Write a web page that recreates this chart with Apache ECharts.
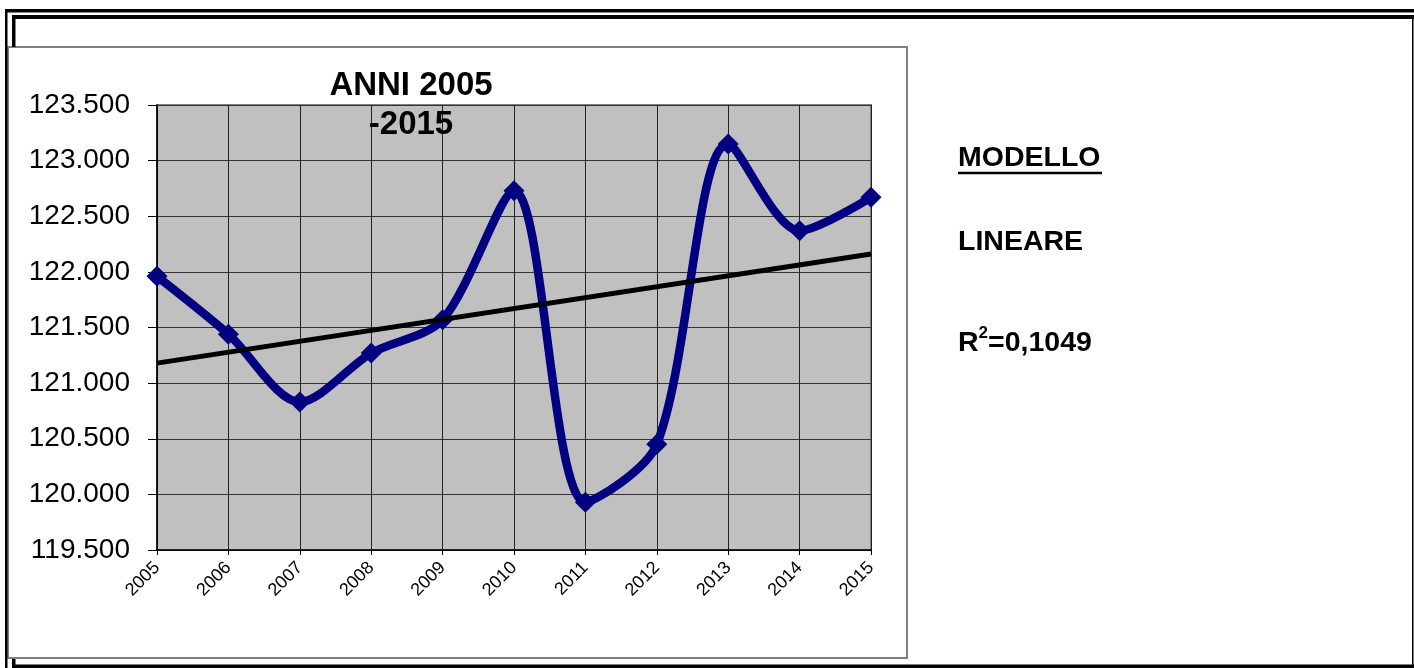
<!DOCTYPE html>
<html>
<head>
<meta charset="utf-8">
<script src="https://cdn.jsdelivr.net/npm/echarts@6/dist/echarts.min.js"></script>
<style>
  html, body { margin: 0; padding: 0; background: #fff; }
  #chart { width: 1414px; height: 668px; }
</style>
</head>
<body>
<div id="chart"></div>
<script>
// dati
const anni = ['2005', '2006', '2007', '2008', '2009', '2010', '2011', '2012', '2013', '2014', '2015'];
const valori = [121960, 121440, 120830, 121270, 121570, 122730, 119930, 120450, 123150, 122370, 122670];
// retta di tendenza (estremi)
const tendenza = [['2005', 121180], ['2015', 122160]];
const yMin = 119500;
const yMax = 123500;
const yStep = 500;

const font = '"Liberation Sans", Arial, sans-serif';

// 123500 -> "123.500"
function formatta(v) {
  return String(Math.round(v)).replace(/\B(?=(\d{3})+(?!\d))/g, '.');
}

const chart = echarts.init(document.getElementById('chart'));

const option = {
  backgroundColor: '#fff',
  animation: false,
  graphic: [
    // cornice esterna
    { type: 'rect', shape: { x: 5, y: 9, width: 1409, height: 3.5 }, style: { fill: '#000' } },
    { type: 'rect', shape: { x: 12, y: 15, width: 1402, height: 4 }, style: { fill: '#000' } },
    { type: 'rect', shape: { x: 5, y: 9, width: 2.5, height: 659 }, style: { fill: '#000' } },
    { type: 'rect', shape: { x: 12, y: 15, width: 3.5, height: 32 }, style: { fill: '#000' } },
    { type: 'rect', shape: { x: 1412, y: 19, width: 1.5, height: 649 }, style: { fill: '#000' } },
    { type: 'rect', shape: { x: 12, y: 664.5, width: 1402, height: 3.5 }, style: { fill: '#000' } },
    { type: 'rect', shape: { x: 12, y: 659, width: 3.5, height: 9 }, style: { fill: '#000' } },
    // area del grafico
    {
      type: 'rect', z: -10,
      shape: { x: 8, y: 47, width: 899, height: 611 },
      style: { fill: '#fff', stroke: '#808080', lineWidth: 2 }
    },
    // titolo
    {
      type: 'text', z: 100, x: 411, y: 86,
      style: { text: 'ANNI 2005', font: 'bold 33px ' + font, fill: '#000', textAlign: 'center', textVerticalAlign: 'middle' }
    },
    {
      type: 'text', z: 100, x: 411, y: 125,
      style: { text: '-2015', font: 'bold 33px ' + font, fill: '#000', textAlign: 'center', textVerticalAlign: 'middle' }
    },
    // testo a destra
    {
      type: 'text', x: 958, y: 158,
      style: { text: 'MODELLO', font: 'bold 28.5px ' + font, fill: '#000', textAlign: 'left', textVerticalAlign: 'middle' }
    },
    {
      type: 'line', shape: { x1: 958, y1: 173, x2: 1102, y2: 173 },
      style: { stroke: '#000', lineWidth: 2.5 }
    },
    {
      type: 'text', x: 958, y: 242,
      style: { text: 'LINEARE', font: 'bold 28.5px ' + font, fill: '#000', textAlign: 'left', textVerticalAlign: 'middle' }
    },
    {
      type: 'text', x: 958, y: 343,
      style: {
        text: '{r|R}{s|2}{r|=0,1049}',
        textAlign: 'left', textVerticalAlign: 'middle',
        rich: {
          r: { fontFamily: font, fontSize: 28.5, fontWeight: 'bold', color: '#000', lineHeight: 36 },
          s: { fontFamily: font, fontSize: 17, fontWeight: 'bold', color: '#000', lineHeight: 12, verticalAlign: 'top' }
        }
      }
    }
  ],
  grid: {
    left: 157,
    right: 543,
    top: 105,
    bottom: 118,
    show: true,
    backgroundColor: '#c0c0c0',
    borderColor: '#808080',
    borderWidth: 2
  },
  xAxis: {
    type: 'category',
    data: anni,
    boundaryGap: false,
    axisLine: { lineStyle: { color: '#000', width: 1.5 } },
    axisTick: { show: true, length: 5, lineStyle: { color: '#000' } },
    axisLabel: {
      rotate: 45,
      margin: 15,
      interval: 0,
      color: '#000',
      fontFamily: font,
      fontSize: 18
    },
    splitLine: { show: true, lineStyle: { color: '#222', width: 1 } }
  },
  yAxis: {
    type: 'value',
    min: yMin,
    max: yMax,
    interval: yStep,
    axisLine: { show: true, lineStyle: { color: '#000', width: 1.5 } },
    axisTick: { show: true, length: 9, lineStyle: { color: '#000' } },
    axisLabel: {
      margin: 27,
      color: '#000',
      fontFamily: font,
      fontSize: 28,
      formatter: formatta
    },
    splitLine: { show: true, lineStyle: { color: '#333', width: 1 } }
  },
  series: [
    {
      name: 'Valori',
      type: 'line',
      data: valori,
      smooth: 0.3,
      symbol: 'diamond',
      symbolSize: 21,
      lineStyle: { color: '#000080', width: 8.5 },
      itemStyle: { color: '#000080' },
      z: 3
    },
    {
      name: 'Lineare',
      type: 'line',
      data: tendenza,
      symbol: 'none',
      lineStyle: { color: '#000', width: 5 },
      z: 4
    }
  ]
};

chart.setOption(option);
</script>
</body>
</html>
